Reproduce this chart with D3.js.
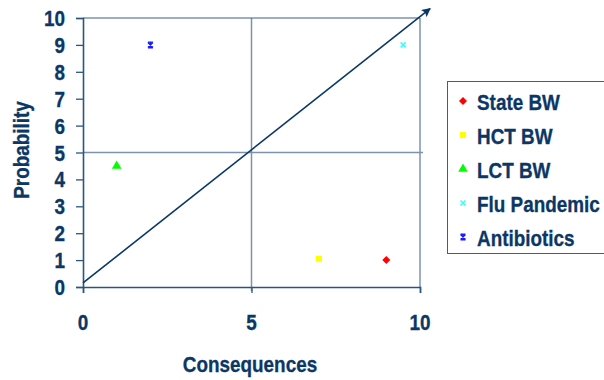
<!DOCTYPE html>
<html><head><meta charset="utf-8">
<script src="https://cdn.jsdelivr.net/npm/d3@7"></script>
<style>body{margin:0;background:#fff}svg{display:block}</style>
</head><body>
<svg id="c" width="604" height="380"></svg>
<script>
const seriesNames = ["State BW", "HCT BW", "LCT BW", "Flu Pandemic", "Antibiotics"];
const consequences = [9, 7, 1, 9.5, 2];
const probability = [1, 1.05, 4.5, 9, 9];
const seriesColors = ["#ff0000", "#ffff00", "#00ff00", "#33ffff", "#1a1aff"];
const seriesSymbols = ["diamond", "square", "triangle", "x", "star"];
const xTicks = [0, 5, 10];
const yTicks = [0,1,2,3,4,5,6,7,8,9,10];
const arrowStart = [0, 0.15];
const arrowEnd = [10.3, 10.35];

const navy = "#0b3765";
const light = "#7d93ad";
const FONT = "'Liberation Sans', Arial, sans-serif";
const SX = 0.9, SY = 1.06;

const svg = d3.select("#c");
const x = d3.scaleLinear().domain([0,10]).range([83,420]);
const y = d3.scaleLinear().domain([0,10]).range([287,18]);

function label(g, tx, ty, text, anchor, size, rot) {
  const t = g.append("g").attr("transform", `translate(${tx},${ty})` + (rot ? ` rotate(${rot})` : "") + ` scale(${SX},${SY})`);
  t.append("text").attr("text-anchor", anchor).attr("dominant-baseline","central")
    .attr("font-family", FONT).attr("font-weight","bold").attr("font-size", size)
    .attr("fill", navy).attr("stroke", navy).attr("stroke-width", 0.3).text(text);
}

// mid lines and borders
svg.append("line").attr("x1", x(5)).attr("x2", x(5)).attr("y1", y(10)).attr("y2", y(0)+4)
  .attr("stroke", light).attr("stroke-width", 1.5);
svg.append("line").attr("x1", x(0)).attr("x2", x(10)+3).attr("y1", y(5)).attr("y2", y(5))
  .attr("stroke", light).attr("stroke-width", 1.5);
svg.append("line").attr("x1", x(10)).attr("x2", x(10)).attr("y1", y(10)).attr("y2", y(0))
  .attr("stroke", light).attr("stroke-width", 1.5);
svg.append("line").attr("x1", x(0)).attr("x2", x(10)).attr("y1", y(10)).attr("y2", y(10))
  .attr("stroke", "#3d5f85").attr("stroke-width", 1);

// axes
const gy = svg.append("g").attr("transform", `translate(${x(0)},0)`)
  .call(d3.axisLeft(y).tickValues(yTicks).tickSize(7).tickFormat(""));
const gx = svg.append("g").attr("transform", `translate(0,${y(0)})`)
  .call(d3.axisBottom(x).tickValues(xTicks).tickSize(6).tickFormat(""));
[gy, gx].forEach(g => {
  g.select(".domain").attr("stroke", "#2b5580").attr("stroke-width", 1.6);
  g.selectAll(".tick line").attr("stroke", "#2b5580").attr("stroke-width", 1.3);
});
yTicks.forEach(v => label(svg, 65, y(v), String(v), "end", 21));
xTicks.forEach(v => label(svg, x(v), 322, String(v), "middle", 21));
label(svg, 250, 364, "Consequences", "middle", 21);
label(svg, 21, 150, "Probability", "middle", 21, -90);

// arrow
const defs = svg.append("defs");
defs.append("marker").attr("id","ah").attr("viewBox","0 0 10 10").attr("refX",9).attr("refY",5)
  .attr("markerWidth",9).attr("markerHeight",9).attr("markerUnits","userSpaceOnUse").attr("orient","auto")
  .append("path").attr("d","M0,0 L10,5 L0,10 L2,5 Z").attr("fill", navy);
svg.append("line").attr("x1", x(arrowStart[0])).attr("y1", y(arrowStart[1]))
  .attr("x2", x(arrowEnd[0])).attr("y2", y(arrowEnd[1]))
  .attr("stroke", navy).attr("stroke-width", 1.6).attr("marker-end","url(#ah)");

// markers
function drawMarker(g, cx, cy, type, color) {
  const m = g.append("g").attr("transform", `translate(${cx},${cy})`);
  if (type === "diamond") m.append("path").attr("d", "M0,-4L4,0L0,4L-4,0Z").attr("fill", color);
  else if (type === "square") m.append("path").attr("d", d3.symbol(d3.symbolSquare, 38)()).attr("fill", color);
  else if (type === "triangle") m.append("path").attr("d", d3.symbol(d3.symbolTriangle, 40)()).attr("fill", color);
  else if (type === "x") m.append("path").attr("d", "M-2.5,-2.5L2.5,2.5M-2.5,2.5L2.5,-2.5").attr("stroke", color).attr("stroke-width", 1.6);
  else if (type === "star") m.append("path").attr("d", "M-2.5,-2.5L2.5,2.5M-2.5,2.5L2.5,-2.5M-2.5,-2.8L2.5,-2.8M-2.5,2.8L2.5,2.8M0,-3L0,3").attr("stroke", color).attr("stroke-width", 1.4);
}
seriesNames.forEach((n, i) => drawMarker(svg, x(consequences[i]), y(probability[i]), seriesSymbols[i], seriesColors[i]));

// legend
const lg = svg.append("g");
lg.append("rect").attr("x", 447.5).attr("y", 81.5).attr("width", 170).attr("height", 172)
  .attr("fill", "#fff").attr("stroke", "#3d5f85").attr("stroke-width", 1);
const ly = d3.scalePoint().domain(seriesNames).range([101, 237]);
seriesNames.forEach((n, i) => {
  drawMarker(lg, 463, ly(n), seriesSymbols[i], seriesColors[i]);
  label(lg, 477, ly(n) + 1, n, "start", 21);
});
</script>
</body></html>
